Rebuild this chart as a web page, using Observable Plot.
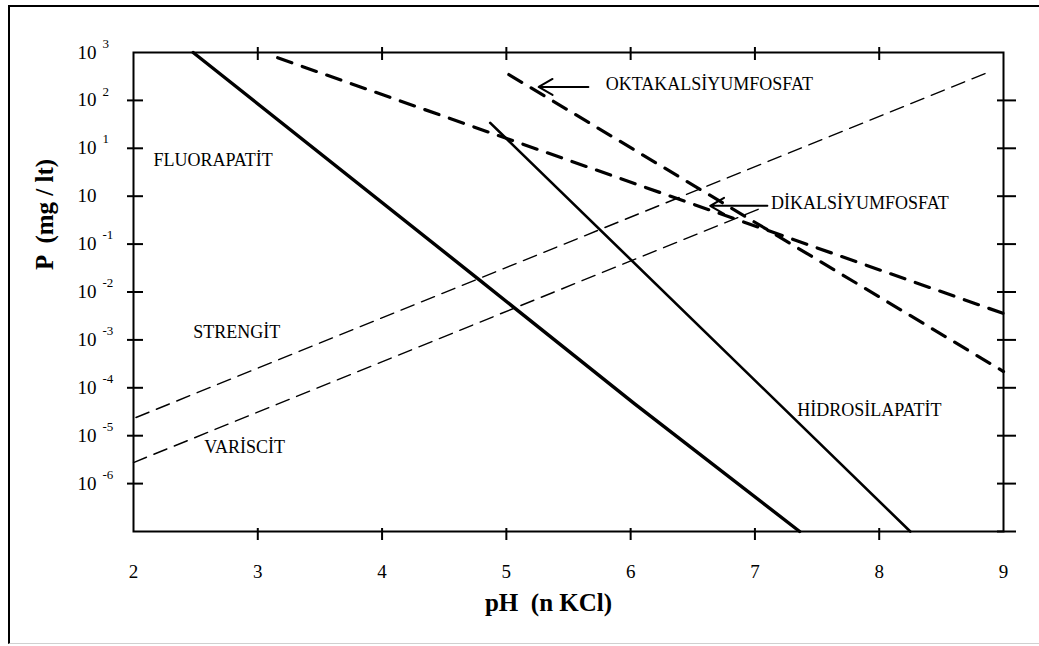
<!DOCTYPE html>
<html>
<head>
<meta charset="utf-8">
<script src="https://cdn.jsdelivr.net/npm/d3@7"></script>
<script src="https://cdn.jsdelivr.net/npm/@observablehq/plot@0.6"></script>
<style>
  html, body { margin: 0; padding: 0; background: #fff; }
  #wrap { position: relative; width: 1039px; height: 646px; overflow: hidden; }
  #border { position: absolute; left: 8px; top: 5px; width: 1040px; height: 639px;
            border-left: 2px solid #000; border-top: 2px solid #000; border-bottom: 1px solid #d0d0d0; box-sizing: border-box; }
  #chart { position: absolute; left: 0; top: 0; }
  #chart svg, #chart svg text { font-family: "Liberation Serif", "Times New Roman", serif !important; }
</style>
</head>
<body>
<div id="wrap"><div id="border"></div><div id="chart"></div></div>
<script>
// y is expressed as "level": position of the 10^n gridline (3 = 10^3 ... -6 = 10^-6)
const yTickLevels = [3, 2, 1, 0, -1, -2, -3, -4, -5, -6];
const yTickExp    = ["3", "2", "1", "", "-1", "-2", "-3", "-4", "-5", "-6"];
const xTickLabels = [2, 3, 4, 5, 6, 7, 8, 9];

// Mineral solubility lines (pH, level)
const fluorapatitX = [2.48, 4.77, 6.03, 7.36];
const fluorapatitY = [3.0, -1.72, -4.33, -7.0];
const hidrosilX = [4.87, 8.25];
const hidrosilY = [1.53, -7.0];
const oktaX = [5.02, 9.0];
const oktaY = [2.54, -3.66];
const dikaX = [3.16, 9.0];
const dikaY = [2.89, -2.45];
const strengitX = [2.02, 8.87];
const strengitY = [-4.62, 2.58];
const variscitX = [2.0, 7.03];
const variscitY = [-5.56, -0.27];

// Labels
const labelNames = ["FLUORAPATİT", "STRENGİT", "VARİSCİT", "HİDROSİLAPATİT", "OKTAKALSİYUMFOSFAT", "DİKALSİYUMFOSFAT"];
const labelX = [2.16, 2.48, 2.57, 7.34, 5.80, 7.13];
const labelY = [0.76, -2.83, -5.25, -4.47, 2.33, -0.15];

// Arrows (from label toward line)
const arrowX1 = [5.66, 7.10];
const arrowX2 = [5.26, 6.64];
const arrowY  = [2.28, -0.20];

const toPts = (xs, ys) => xs.map((x, i) => ({x, y: ys[i]}));
const yTicks = yTickLevels.map((l, i) => ({level: l, exp: yTickExp[i]}));
const labels = labelNames.map((t, i) => ({t, x: labelX[i], y: labelY[i]}));
const arrows = arrowX1.map((x1, i) => ({x1, x2: arrowX2[i], y: arrowY[i]}));

const chart = Plot.plot({
  width: 1039,
  height: 646,
  marginLeft: 133,
  marginRight: 36,
  marginTop: 52,
  marginBottom: 115,
  style: "font-family: 'Liberation Serif', 'Times New Roman', serif; background: transparent; color: #000;",
  x: {domain: [2, 9], axis: null},
  y: {domain: [-7, 3], axis: null},
  marks: [
    Plot.frame({stroke: "#000", strokeWidth: 2}),
    Plot.axisY({anchor: "left", ticks: [2, 1, 0, -1, -2, -3, -4, -5, -6], tickSize: 16, dx: 10, strokeWidth: 2, tickFormat: () => "", label: null}),
    Plot.axisY({anchor: "right", ticks: [2, 1, 0, -1, -2, -3, -4, -5, -6, -7], tickSize: 19, dx: -7, strokeWidth: 2, tickFormat: () => "", label: null}),
    Plot.axisX({anchor: "top", ticks: [3, 4, 5, 6, 7, 8], tickSize: 13, dy: 7, strokeWidth: 2, tickFormat: () => "", label: null}),
    Plot.axisX({anchor: "bottom", ticks: [3, 4, 5, 6, 7, 8], tickSize: 12, dy: -3, strokeWidth: 2, tickFormat: () => "", label: null}),
    // y tick labels "10" + exponent
    Plot.text(yTicks, {frameAnchor: "left", y: "level", text: () => "10", textAnchor: "end", dx: -37, fontSize: 19, fill: "#000"}),
    Plot.text(yTicks, {frameAnchor: "left", y: "level", text: "exp", textAnchor: "start", dx: -31, dy: -9, fontSize: 13, fill: "#000"}),
    // x tick labels
    Plot.text(xTickLabels, {x: d => d, frameAnchor: "bottom", dy: 46, text: d => String(d), fontSize: 19, fill: "#000"}),
    // axis titles
    Plot.text(["P  (mg / lt)"], {frameAnchor: "left", dx: -89, dy: -22, rotate: -90, text: d => d, fontSize: 25, fontWeight: "bold", fill: "#000"}),
    Plot.text(["pH  (n KCl)"], {frameAnchor: "bottom", dx: -20, dy: 79, text: d => d, fontSize: 25, fontWeight: "bold", fill: "#000"}),
    // lines
    Plot.line(toPts(strengitX, strengitY), {x: "x", y: "y", stroke: "#000", strokeWidth: 1.4, strokeDasharray: "14,8"}),
    Plot.line(toPts(variscitX, variscitY), {x: "x", y: "y", stroke: "#000", strokeWidth: 1.4, strokeDasharray: "14,8"}),
    Plot.line(toPts(oktaX, oktaY), {x: "x", y: "y", stroke: "#000", strokeWidth: 3.2, strokeDasharray: "15,11"}),
    Plot.line(toPts(dikaX, dikaY), {x: "x", y: "y", stroke: "#000", strokeWidth: 3.2, strokeDasharray: "15,11"}),
    Plot.line(toPts(hidrosilX, hidrosilY), {x: "x", y: "y", stroke: "#000", strokeWidth: 2.6}),
    Plot.line(toPts(fluorapatitX, fluorapatitY), {x: "x", y: "y", stroke: "#000", strokeWidth: 3.4}),
    // arrows
    Plot.arrow(arrows, {x1: "x1", x2: "x2", y1: "y", y2: "y", stroke: "#000", strokeWidth: 2, headLength: 12, headAngle: 60}),
    // labels
    Plot.text(labels, {x: "x", y: "y", text: "t", textAnchor: "start", fontSize: 18, fill: "#000"})
  ]
});
document.getElementById("chart").appendChild(chart);
</script>
</body>
</html>
